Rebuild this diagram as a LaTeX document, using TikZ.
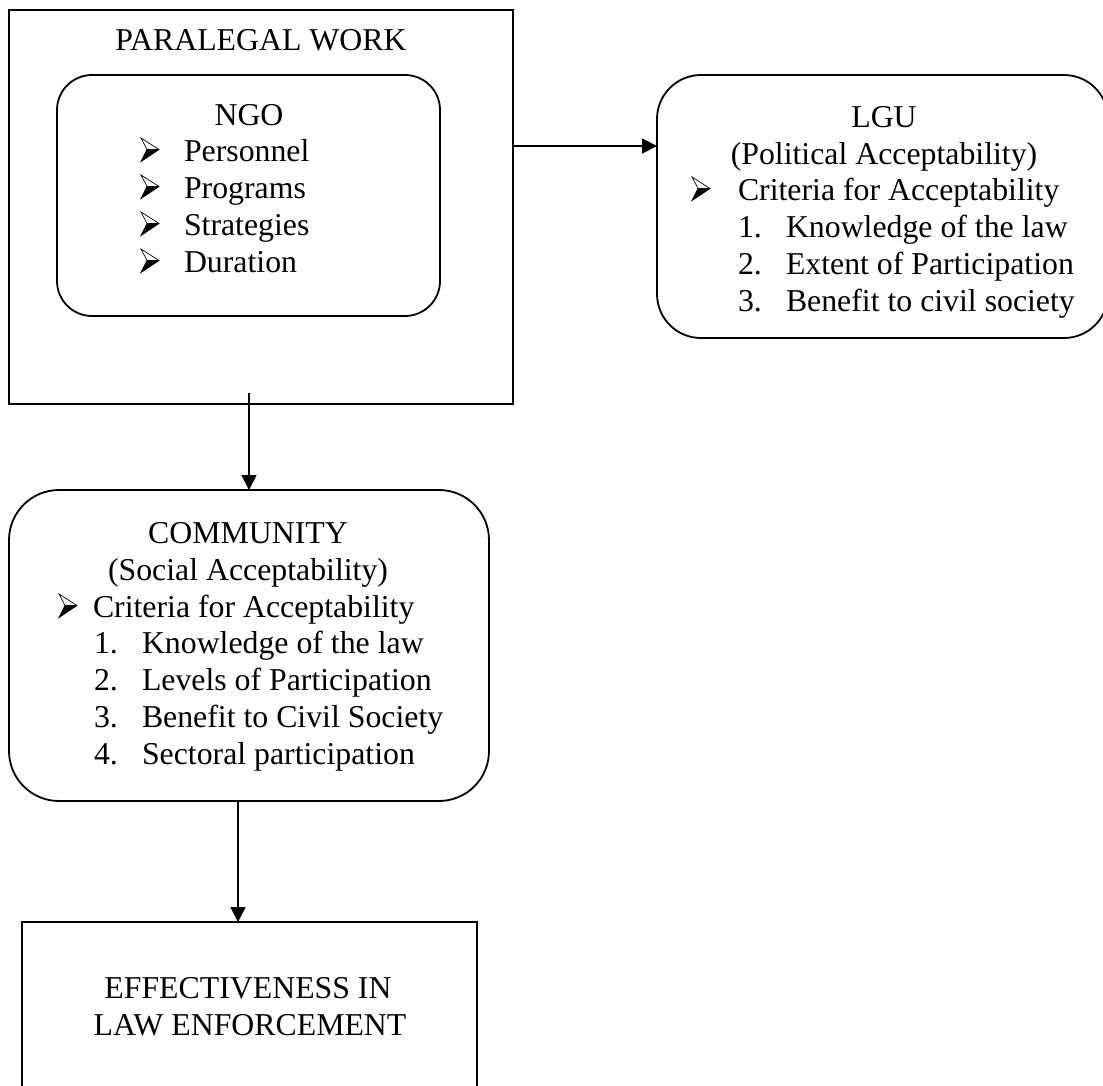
\documentclass[tikz,border=0pt]{standalone}
\usepackage{fontspec}
\setmainfont{Liberation Serif}
\usetikzlibrary{arrows.meta}
\begin{document}
\begin{tikzpicture}[x=1pt,y=-1pt,
  every node/.style={inner sep=0pt, outer sep=0pt},
  sqbox/.style={draw, line width=1.8pt},
  rbox/.style={draw, line width=1.8pt, rounded corners=#1},
  ctxt/.style={anchor=base, font=\fontsize{31.8}{37}\selectfont},
  ltxt/.style={anchor=base west, font=\fontsize{31.8}{37}\selectfont},
  arr/.style={line width=1.8pt, -{Triangle[length=15pt,width=15pt]}},
  arrowbul/.pic={
    \fill[black] (6,-11.5) -- (18,-11.5) -- (0,0.5) -- cycle;
    \draw[line width=0.7pt, line join=miter] (0,-23) -- (18,-11.5) -- (0,0.5) -- (6,-11.5) -- cycle;
    \draw[line width=0.7pt] (6,-11.5) -- (18,-11.5);
  }]
\useasboundingbox (0,0) rectangle (1103,1085);
% boxes
\node[sqbox, minimum width=504pt, minimum height=394pt] (para) at (261,207) {};
\node[rbox=35pt, minimum width=383pt, minimum height=241pt] (ngo) at (248.5,195.5) {};
\node[rbox=44pt, minimum width=451pt, minimum height=263pt] (lgu) at (882.5,206.5) {};
\node[rbox=50pt, minimum width=480pt, minimum height=311pt] (comm) at (249,645.5) {};
\node[sqbox, minimum width=455pt, minimum height=178pt] (eff) at (249.5,1011) {};
% paralegal / ngo text
\node[ctxt] (paratitle) at (261,50) {PARALEGAL WORK};
\node[ctxt] (ngotitle) at (249,125) {NGO};
\pic at (141,161) {arrowbul};
\node[ltxt] (n1) at (184,161) {Personnel};
\pic at (141,198) {arrowbul};
\node[ltxt] (n2) at (184,198) {Programs};
\pic at (141,235) {arrowbul};
\node[ltxt] (n3) at (184,235) {Strategies};
\pic at (141,272) {arrowbul};
\node[ltxt] (n4) at (184,272) {Duration};
% lgu text
\node[ctxt] (lgutitle) at (884,127) {LGU};
\node[ctxt] (lgusub) at (884,164) {(Political Acceptability)};
\pic at (692,200) {arrowbul};
\node[ltxt] (lcrit) at (738,200) {Criteria for Acceptability};
\node[ltxt] (ln1) at (738,237) {1.};
\node[ltxt] (li1) at (786,237) {Knowledge of the law};
\node[ltxt] (ln2) at (738,274) {2.};
\node[ltxt] (li2) at (786,274) {Extent of Participation};
\node[ltxt] (ln3) at (738,311) {3.};
\node[ltxt] (li3) at (786,311) {Benefit to civil society};
% community text
\node[ctxt] (commtitle) at (248,543) {COMMUNITY};
\node[ctxt] (commsub) at (248,580) {(Social Acceptability)};
\pic at (59,617) {arrowbul};
\node[ltxt] (ccrit) at (93,617) {Criteria for Acceptability};
\node[ltxt] (cn1) at (94,653) {1.};
\node[ltxt] (ci1) at (142,653) {Knowledge of the law};
\node[ltxt] (cn2) at (94,690) {2.};
\node[ltxt] (ci2) at (142,690) {Levels of Participation};
\node[ltxt] (cn3) at (94,727) {3.};
\node[ltxt] (ci3) at (142,727) {Benefit to Civil Society};
\node[ltxt] (cn4) at (94,764) {4.};
\node[ltxt] (ci4) at (142,764) {Sectoral participation};
% effectiveness text
\node[ctxt] (eff1) at (248,998) {EFFECTIVENESS IN};
\node[ctxt] (eff2) at (250,1035) {LAW ENFORCEMENT};
% connectors
\coordinate (hrow) at (0,146);
\draw[arr] (para.east |- hrow) -- (lgu.west |- hrow);
\coordinate (v1s) at (249,393);
\draw[arr] (v1s) -- (v1s |- comm.north);
\coordinate (v2) at (238,0);
\draw[arr] (v2 |- comm.south) -- (v2 |- eff.north);
\end{tikzpicture}
\end{document}
